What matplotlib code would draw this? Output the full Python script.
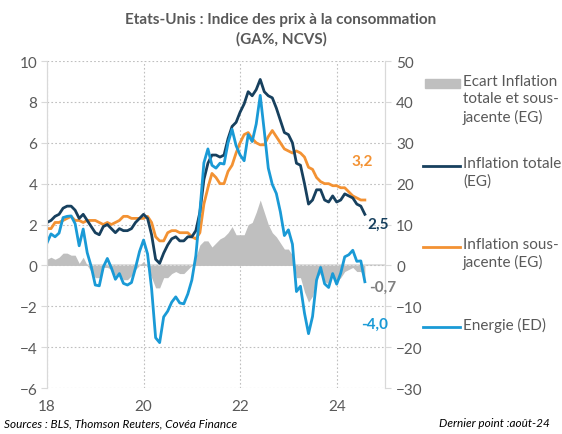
import numpy as np
import matplotlib.pyplot as plt
from matplotlib.lines import Line2D
from matplotlib.patches import Rectangle

plt.rcParams['font.family'] = ['Lato', 'DejaVu Sans']

# monthly, janv-18 .. août-24 (GA %)
inflation_totale = [
    2.1, 2.2, 2.4, 2.5, 2.8, 2.9, 2.9, 2.7, 2.3, 2.5, 2.2, 1.9,
    1.6, 1.5, 1.9, 2.0, 1.8, 1.6, 1.8, 1.7, 1.7, 1.8, 2.1, 2.3,
    2.5, 2.3, 1.5, 0.3, 0.1, 0.6, 1.0, 1.3, 1.4, 1.2, 1.2, 1.4,
    1.4, 1.7, 2.6, 4.2, 5.0, 5.4, 5.4, 5.3, 5.4, 6.2, 6.8, 7.0,
    7.5, 7.9, 8.5, 8.3, 8.6, 9.1, 8.5, 8.3, 8.2, 7.7, 7.1, 6.5,
    6.4, 6.0, 5.0, 4.9, 4.0, 3.0, 3.2, 3.7, 3.7, 3.2, 3.1, 3.4,
    3.1, 3.2, 3.5, 3.4, 3.3, 3.0, 2.9, 2.5]
inflation_sj = [
    1.8, 1.8, 2.1, 2.1, 2.2, 2.3, 2.4, 2.2, 2.2, 2.1, 2.2, 2.2,
    2.2, 2.1, 2.0, 2.1, 2.0, 2.1, 2.2, 2.4, 2.4, 2.3, 2.3, 2.3,
    2.3, 2.4, 2.1, 1.4, 1.2, 1.2, 1.6, 1.7, 1.7, 1.6, 1.6, 1.6,
    1.4, 1.3, 1.6, 3.0, 3.8, 4.5, 4.3, 4.0, 4.0, 4.6, 4.9, 5.5,
    6.0, 6.4, 6.5, 6.2, 6.0, 5.9, 5.9, 6.3, 6.6, 6.3, 6.0, 5.7,
    5.6, 5.5, 5.6, 5.5, 5.3, 4.8, 4.7, 4.3, 4.1, 4.0, 4.0, 3.9,
    3.9, 3.8, 3.8, 3.6, 3.4, 3.3, 3.2, 3.2]
ecart = [
    0.3, 0.4, 0.3, 0.4, 0.6, 0.6, 0.5, 0.5, 0.1, 0.4, 0.0, -0.3,
    -0.6, -0.6, -0.1, -0.1, -0.2, -0.5, -0.4, -0.7, -0.7, -0.5, -0.2, 0.0,
    0.2, -0.1, -0.6, -1.1, -1.1, -0.6, -0.6, -0.4, -0.3, -0.4, -0.4, -0.2,
    0.0, 0.4, 1.0, 1.2, 1.2, 0.9, 1.1, 1.3, 1.4, 1.6, 1.9, 1.5,
    1.5, 1.5, 2.0, 2.1, 2.6, 3.2, 2.6, 2.0, 1.6, 1.4, 1.1, 0.8,
    0.8, 0.5, -0.6, -0.6, -1.3, -1.8, -1.5, -0.6, -0.4, -0.8, -0.9, -0.5,
    -0.8, -0.6, -0.3, -0.2, -0.1, -0.3, -0.3, -0.7]
energie = [
    5.5, 7.7, 7.0, 7.9, 11.7, 12.0, 12.1, 10.2, 4.8, 8.9, 3.1, -0.3,
    -4.8, -5.0, -0.4, 1.7, -0.6, -3.4, -2.0, -4.4, -4.8, -4.2, -0.6, 3.4,
    6.2, 2.8, -5.7, -17.7, -18.9, -12.6, -11.2, -9.0, -7.7, -9.2, -9.4, -7.0,
    -3.6, 2.4, 13.2, 25.1, 28.5, 24.5, 23.8, 25.0, 24.8, 30.0, 33.3, 29.3,
    27.0, 25.6, 32.0, 30.3, 34.6, 41.6, 32.9, 23.8, 19.8, 17.6, 13.1, 7.3,
    8.7, 5.2, -6.4, -5.1, -11.7, -16.7, -12.5, -3.6, -0.5, -4.5, -5.4, -2.0,
    -4.6, -1.9, 2.1, 2.6, 3.7, 1.0, 1.1, -4.0]
annees = [18, 20, 22, 24]

c_tot = '#17405e'
c_sj = '#f39233'
c_en = '#1a9ad6'
c_gap = '#bfbfbf'
c_txt = '#595959'

x = 18 + np.arange(len(inflation_totale)) / 12

fig = plt.figure(figsize=(5.62, 4.35), dpi=100)
ax = fig.add_axes([0.0836, 0.1057, 0.6014, 0.7517])
ax2 = ax.twinx()

ax.fill_between(x, 0, ecart, color=c_gap, lw=0, zorder=2)
ax.axhline(0, color='#d9d9d9', lw=1.2, zorder=1)
ax.plot(x, inflation_sj, color=c_sj, lw=2, zorder=3)
ax.plot(x, inflation_totale, color=c_tot, lw=2, zorder=4)
ax2.plot(x, energie, color=c_en, lw=2)

ax.set_xlim(18, 25)
ax.set_ylim(-6, 10)
ax2.set_ylim(-30, 50)
ax.set_xticks(annees)
ax.set_xticklabels([str(a) for a in annees])
ax.set_yticks(range(-6, 11, 2))
ax2.set_yticks(range(-30, 51, 10))

ax.grid(True, ls=(0, (1.5, 2)), color='#bfbfbf', lw=0.8)
for a in (ax, ax2):
    for s in ('top', 'bottom'):
        a.spines[s].set_visible(False)
    a.spines['left'].set_color('#d9d9d9')
    a.spines['right'].set_color('#d9d9d9')
    a.tick_params(labelsize=11, colors=c_txt, length=4, color='#d9d9d9')
ax.tick_params(axis='x', length=0, pad=8)
ax.tick_params(axis='y', pad=3)
ax2.tick_params(axis='y', pad=4)

fig.text(0.5, 1 - 29.5 / 435, 'Etats-Unis : Indice des prix à la consommation\n(GA%, NCVS)',
         ha='center', va='center', fontsize=11, fontweight='bold', color=c_txt,
         linespacing=1.45)

# end-point labels (drawn above the right spine)
labels = [(24.3, 5.1, '3,2', c_sj), (24.64, 2.05, '2,5', c_tot),
          (24.67, -1.05, '-0,7', '#7f7f7f'), (24.5, -2.85, '-4,0', c_en)]
for lx, ly, t, col in labels:
    ax2.text(lx, ly, t, transform=ax.transData, color=col, fontsize=11,
             fontweight='bold', va='center', zorder=10)

# legend
W, H = 562, 435
def fy(py):
    return 1 - py / H
fig.add_artist(Rectangle((425 / W, fy(89)), 35 / W, 9 / H, color=c_gap,
                         transform=fig.transFigure))
for py, col in [(167, c_tot), (248, c_sj), (328, c_en)]:
    fig.add_artist(Line2D([423 / W, 460 / W], [fy(py), fy(py)], color=col, lw=2,
                          transform=fig.transFigure))
leg = [(84, 'Ecart Inflation\ntotale et sous-\njacente (EG)'),
       (166, 'Inflation totale\n(EG)'),
       (247, 'Inflation sous-\njacente (EG)'),
       (327, 'Energie (ED)')]
for py, t in leg:
    fig.text(463 / W, fy(py - 9), t, ha='left', va='top', fontsize=11,
             color=c_txt, linespacing=1.28)

fig.text(0.008, 0.018, 'Sources : BLS, Thomson Reuters, Covéa Finance',
         fontsize=8.5, style='italic', color='black')
fig.text(0.978, 0.018, 'Dernier point :août-24', fontsize=8.5, style='italic',
         color='black', ha='right')

fig.savefig('out.png', dpi=100)
